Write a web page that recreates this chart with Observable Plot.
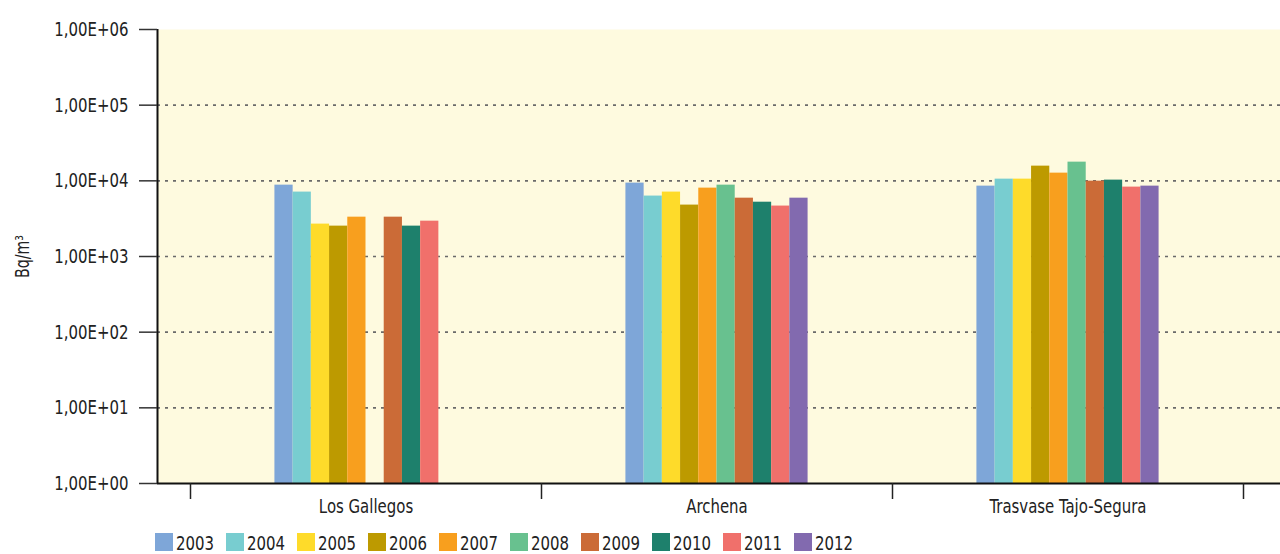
<!DOCTYPE html>
<html>
<head>
<meta charset="utf-8">
<script src="https://cdn.jsdelivr.net/npm/d3@7"></script>
<script src="https://cdn.jsdelivr.net/npm/@observablehq/plot@0.6"></script>
<style>
  body { margin: 0; background: #fff; width: 1280px; height: 554px; position: relative; overflow: hidden;
         font-family: "DejaVu Sans Condensed", "DejaVu Sans", sans-serif; color: #222; }
  #legend { position: absolute; top: 533px; left: 155px; display: flex; align-items: flex-start; }
  #legend .item { display: flex; align-items: flex-start; margin-right: 13px; }
  #legend .sw { width: 18px; height: 18px; margin-right: 3px; }
  #legend .lb { font-size: 20px; line-height: 20px; width: 37px; white-space: nowrap;
                transform: scaleX(0.83); transform-origin: left center; }
</style>
</head>
<body>
<div id="chart"></div>
<div id="legend"></div>
<script>
const categories = ["Los Gallegos", "Archena", "Trasvase Tajo-Segura"];
const years = ["2003", "2004", "2005", "2006", "2007", "2008", "2009", "2010", "2011", "2012"];
const colors = ["#7ea6d8", "#78cdd0", "#fedb2a", "#bd9a00", "#f89f1e", "#68c18f", "#cb6b37", "#1e806c", "#f0706b", "#826aaf"];
const losGallegos = [8770, 7100, 2680, 2520, 3310, null, 3310, 2520, 2930, null];
const archena = [9330, 6290, 7100, 4780, 8010, 8770, 5900, 5220, 4640, 5900];
const trasvase = [8510, 10530, 10530, 15640, 12640, 17660, 9900, 10220, 8260, 8510];
const yTicks = [1, 10, 100, 1000, 10000, 100000, 1000000];
const gridTicks = [10, 100, 1000, 10000, 100000];

const series = [losGallegos, archena, trasvase];
const barW = 0.0519; // bar width as fraction of a category band
const rows = [];
series.forEach((vals, ci) => {
  vals.forEach((v, k) => {
    if (v == null) return;
    const x1 = ci + 0.5 + (k - years.length / 2) * barW;
    rows.push({category: categories[ci], year: years[k], value: v, x1, x2: x1 + barW});
  });
});

const font = '"DejaVu Sans Condensed", "DejaVu Sans", sans-serif';
const chart = Plot.plot({
  width: 1280,
  height: 525,
  marginLeft: 157,
  marginRight: 0,
  marginTop: 29,
  marginBottom: 42,
  style: {fontFamily: font, color: "#222", background: "white"},
  x: {type: "linear", domain: [-33 / 351, 3 + 37 / 351], label: null},
  y: {type: "log", domain: [1, 1e6], label: null},
  color: {domain: years, range: colors},
  marks: [
    Plot.frame({fill: "#fefadf", stroke: "none"}),
    Plot.ruleY(gridTicks, {stroke: "#6a6a6a", strokeWidth: 1.6, strokeDasharray: "3,5"}),
    Plot.rect(rows, {x1: "x1", x2: "x2", y1: 1, y2: "value", fill: "year"}),
    Plot.ruleX([-33 / 351], {stroke: "#111", strokeWidth: 2}),
    Plot.ruleY([1], {stroke: "#111", strokeWidth: 2}),
    Plot.axisY({ticks: yTicks, tickSize: 18, tickPadding: 11, fontSize: 20, stroke: "#333", strokeWidth: 1.5,
      tickFormat: d => "1,00E+" + String(Math.round(Math.log10(d))).padStart(2, "0"), label: null}),
    Plot.axisX({ticks: [0, 1, 2, 3], tickSize: 16, stroke: "#222", strokeWidth: 1.5, tickFormat: () => "", label: null}),
    Plot.axisX({ticks: [0.5, 1.5, 2.5], tickSize: 0, tickPadding: 15, fontSize: 20,
      tickFormat: d => categories[Math.floor(d)], label: null}),
    Plot.text([0], {frameAnchor: "left", textAnchor: "middle", dx: -135, rotate: -90,
      text: () => "Bq/m³", fontSize: 19, fill: "#222"})
  ]
});
document.getElementById("chart").appendChild(chart);

// condensed look: narrow every label of the chart horizontally
d3.select(chart).selectAll("text").each(function () {
  const L = this.getComputedTextLength();
  if (L > 0) {
    this.setAttribute("textLength", (L * 0.83).toFixed(2));
    this.setAttribute("lengthAdjust", "spacingAndGlyphs");
  }
});

const cs = chart.scale("color");
const legend = d3.select("#legend");
cs.domain.forEach((y, i) => {
  const it = legend.append("div").attr("class", "item");
  it.append("div").attr("class", "sw").style("background", cs.range[i]);
  it.append("div").attr("class", "lb").text(y);
});
</script>
</body>
</html>
